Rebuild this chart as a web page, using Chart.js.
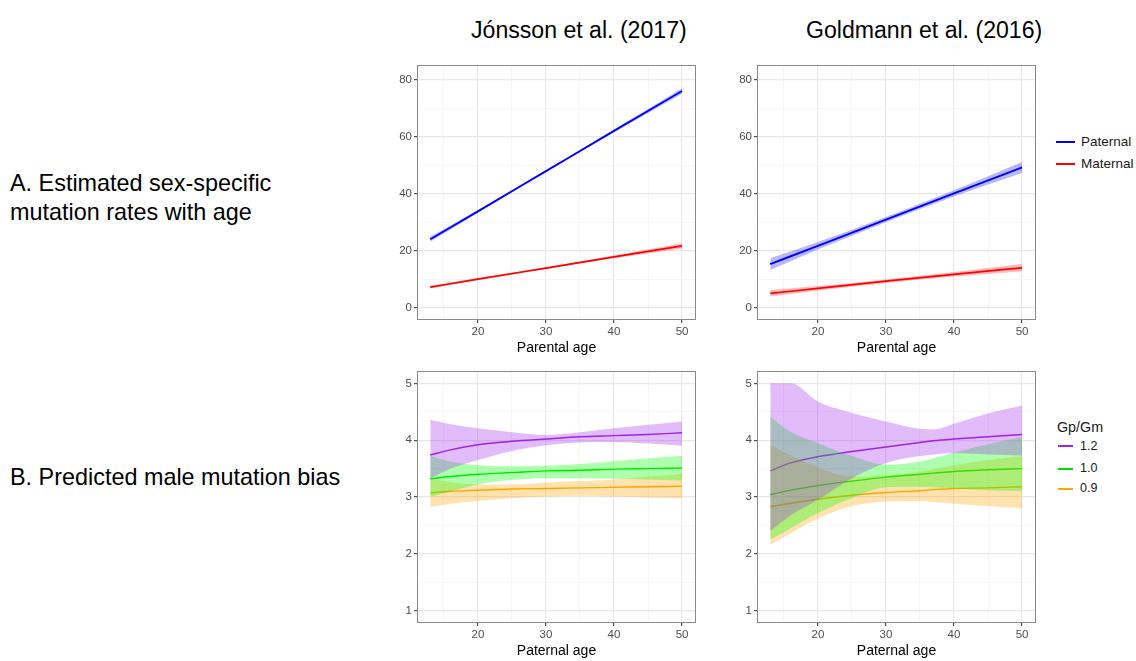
<!DOCTYPE html>
<html lang="en">
<head>
<meta charset="UTF-8">
<title>Sex-specific mutation rates and male mutation bias</title>
<script src="https://cdn.jsdelivr.net/npm/chart.js"></script>
<style>
  body { margin: 0; background: #fff; font-family: "Liberation Sans", Arial, Helvetica, sans-serif; color: #000; }
  #page { position: relative; width: 1136px; height: 661px; overflow: hidden; }
  .txt { position: absolute; white-space: nowrap; }
  .key { position: absolute; height: 2px; }
  canvas { position: absolute; }
</style>
</head>
<body>
<div id="page">
  <!-- column titles -->
  <div class="txt" style="left:471px; top:16px; font-size:23.1px; line-height:28px;">Jónsson et al. (2017)</div>
  <div class="txt" style="left:806px; top:16px; font-size:23.1px; line-height:28px;">Goldmann et al. (2016)</div>

  <!-- row labels -->
  <div class="txt" style="left:10px; top:169.4px; font-size:23.4px; line-height:28.3px;">A. Estimated sex-specific<br>mutation rates with age</div>
  <div class="txt" style="left:10px; top:462.7px; font-size:23.4px; line-height:28.3px;">B. Predicted male mutation bias</div>

  <!-- panels -->
  <canvas id="rateJon" width="334" height="303" style="left:373px; top:56px;"></canvas>
  <canvas id="rateGol" width="334" height="303" style="left:713px; top:56px;"></canvas>
  <canvas id="biasJon" width="334" height="300" style="left:373px; top:362px;"></canvas>
  <canvas id="biasGol" width="334" height="300" style="left:713px; top:362px;"></canvas>

  <!-- legend: sex -->
  <div class="key" style="left:1056px; top:141px; width:19px; background:#0000ff;"></div>
  <div class="txt" style="left:1081px; top:134.2px; font-size:13.5px; line-height:16px; color:#1a1a1a;">Paternal</div>
  <div class="key" style="left:1056px; top:163.3px; width:19px; background:#ff0000;"></div>
  <div class="txt" style="left:1081px; top:156.4px; font-size:13.5px; line-height:16px; color:#1a1a1a;">Maternal</div>

  <!-- legend: Gp/Gm -->
  <div class="txt" style="left:1057px; top:419px; font-size:14.3px; line-height:17px; color:#1a1a1a;">Gp/Gm</div>
  <div class="key" style="left:1058px; top:445px; width:15px; background:#a020f0;"></div>
  <div class="txt" style="left:1080px; top:438.6px; font-size:12.5px; line-height:15px; color:#1a1a1a;">1.2</div>
  <div class="key" style="left:1058px; top:467.7px; width:15px; background:#00dd00;"></div>
  <div class="txt" style="left:1080px; top:461.3px; font-size:12.5px; line-height:15px; color:#1a1a1a;">1.0</div>
  <div class="key" style="left:1058px; top:487.7px; width:15px; background:#ffa500;"></div>
  <div class="txt" style="left:1080px; top:481.3px; font-size:12.5px; line-height:15px; color:#1a1a1a;">0.9</div>
</div>

<script>
// ---- data ----
const rateAges = [13, 20, 30, 40, 50];

// Jónsson et al. (2017): mutations per generation
const jonPaternal   = [24.0, 33.8, 47.9, 62.0, 76.0];
const jonPaternalHi = [24.9, 34.3, 48.2, 62.5, 77.0];
const jonPaternalLo = [23.1, 33.3, 47.6, 61.5, 75.0];
const jonMaternal   = [7.2, 10.0, 13.9, 17.8, 21.7];
const jonMaternalHi = [7.7, 10.4, 14.2, 18.3, 22.6];
const jonMaternalLo = [6.7, 9.6, 13.6, 17.3, 20.8];

// Goldmann et al. (2016)
const golPaternal   = [15.3, 21.7, 30.9, 40.1, 49.2];
const golPaternalHi = [17.3, 23.0, 31.8, 41.2, 51.1];
const golPaternalLo = [13.2, 20.4, 30.0, 39.0, 47.2];
const golMaternal   = [5.0, 6.8, 9.3, 11.7, 14.0];
const golMaternalHi = [6.2, 7.6, 9.9, 12.5, 15.3];
const golMaternalLo = [3.9, 6.0, 8.7, 10.9, 12.8];

// predicted male mutation bias, Jónsson
const biasAgesJon = [13, 16, 20, 25, 30, 35, 40, 45, 50];
const jon12   = [3.74, 3.83, 3.92, 3.98, 4.02, 4.06, 4.08, 4.10, 4.13];
const jon12Hi = [4.36, 4.28, 4.21, 4.14, 4.09, 4.14, 4.21, 4.27, 4.33];
const jon12Lo = [3.33, 3.50, 3.65, 3.81, 3.91, 3.96, 3.97, 3.94, 3.90];
const jon10   = [3.32, 3.36, 3.40, 3.43, 3.46, 3.47, 3.49, 3.50, 3.51];
const jon10Hi = [3.72, 3.62, 3.56, 3.54, 3.55, 3.58, 3.63, 3.68, 3.72];
const jon10Lo = [3.00, 3.10, 3.22, 3.30, 3.33, 3.33, 3.32, 3.31, 3.29];
const jon09   = [3.07, 3.10, 3.12, 3.14, 3.15, 3.16, 3.17, 3.18, 3.19];
const jon09Hi = [3.32, 3.26, 3.22, 3.22, 3.25, 3.28, 3.31, 3.36, 3.41];
const jon09Lo = [2.82, 2.88, 2.93, 2.98, 3.01, 3.02, 3.01, 2.99, 2.98];

// predicted male mutation bias, Goldmann
const biasAgesGol = [13, 16, 20, 25, 30, 35, 37, 40, 45, 50];
const gol12   = [3.46, 3.60, 3.71, 3.80, 3.88, 3.96, 3.99, 4.02, 4.06, 4.10];
const gol12Hi = [5.00, 5.00, 4.68, 4.48, 4.33, 4.20, 4.19, 4.29, 4.47, 4.61];
const gol12Lo = [2.40, 2.68, 2.95, 3.33, 3.60, 3.72, 3.75, 3.77, 3.75, 3.73];
const gol10   = [3.04, 3.12, 3.20, 3.28, 3.35, 3.40, 3.42, 3.45, 3.48, 3.50];
const gol10Hi = [4.41, 4.15, 3.95, 3.72, 3.57, 3.62, 3.68, 3.78, 3.93, 4.05];
const gol10Lo = [2.25, 2.45, 2.72, 2.98, 3.17, 3.18, 3.17, 3.15, 3.12, 3.10];
const gol09   = [2.83, 2.89, 2.96, 3.03, 3.08, 3.11, 3.13, 3.15, 3.16, 3.18];
const gol09Hi = [3.92, 3.73, 3.52, 3.36, 3.38, 3.45, 3.49, 3.56, 3.65, 3.72];
const gol09Lo = [2.16, 2.36, 2.62, 2.84, 2.92, 2.93, 2.91, 2.88, 2.84, 2.80];

// axes
const ageTicks = [20, 30, 40, 50];
const ageMinorTicks = [15, 25, 35, 45];
const rateTicks = [0, 20, 40, 60, 80];
const rateMinorTicks = [10, 30, 50, 70];
const biasTicks = [1, 2, 3, 4, 5];
const biasMinorTicks = [1.5, 2.5, 3.5, 4.5];

const FONT = "'Liberation Sans', Arial, Helvetica, sans-serif";

function pts(xs, ys) {
    return xs.map((x, i) => ({ x: x, y: ys[i] }));
}

// upper edge fills down to the lower edge that follows it
function ribbon(xs, hi, lo, fillColor) {
    return [
        { data: pts(xs, hi), borderWidth: 0, pointRadius: 0, fill: '+1', backgroundColor: fillColor },
        { data: pts(xs, lo), borderWidth: 0, pointRadius: 0, fill: false }
    ];
}

function line(xs, ys, color, width) {
    return { data: pts(xs, ys), borderColor: color, borderWidth: width, pointRadius: 0, fill: false };
}

function scaleOpts(range, major, minor, horizontal, title) {
    const isMajor = v => major.includes(v);
    return {
        type: 'linear',
        min: range[0],
        max: range[1],
        afterBuildTicks: s => {
            s.ticks = major.concat(minor).sort((a, b) => a - b).map(v => ({ value: v }));
        },
        afterFit: s => {
            if (horizontal) s.height = 40; else s.width = 45;
        },
        border: { display: false },
        grid: {
            color: c => (c.tick && isMajor(c.tick.value)) ? '#e8e8e8' : '#f4f4f4',
            lineWidth: c => (c.tick && isMajor(c.tick.value)) ? 1.2 : 0.8,
            tickColor: c => (c.tick && isMajor(c.tick.value)) ? '#4d4d4d' : 'rgba(0,0,0,0)',
            tickLength: 4
        },
        ticks: {
            autoSkip: false,
            maxRotation: 0,
            padding: 2,
            color: '#4d4d4d',
            font: { family: FONT, size: 11.5 },
            callback: v => isMajor(v) ? String(v) : ''
        },
        title: title ? {
            display: true,
            text: title,
            color: '#000',
            font: { family: FONT, size: 14 },
            padding: { top: 0, bottom: 2.4 }
        } : { display: false }
    };
}

const panelBorder = {
    id: 'panelBorder',
    afterDraw(chart) {
        const a = chart.chartArea;
        const ctx = chart.ctx;
        ctx.save();
        ctx.strokeStyle = '#8a8a8a';
        ctx.lineWidth = 1;
        ctx.strokeRect(Math.round(a.left) - 0.5, Math.round(a.top) - 0.5,
            Math.round(a.right - a.left) + 1, Math.round(a.bottom - a.top) + 1);
        ctx.restore();
    }
};

function makePanel(id, datasets, yRange, yMajor, yMinor, xTitle) {
    new Chart(document.getElementById(id), {
        type: 'line',
        data: { datasets: datasets },
        options: {
            responsive: false,
            animation: false,
            layout: { padding: { left: 0, top: 10, right: 12, bottom: 0 } },
            elements: { line: { cubicInterpolationMode: 'monotone' } },
            plugins: { legend: { display: false }, tooltip: { enabled: false } },
            scales: {
                x: scaleOpts([11.2, 51.9], ageTicks, ageMinorTicks, true, xTitle),
                y: scaleOpts(yRange, yMajor, yMinor, false, null)
            }
        },
        plugins: [panelBorder]
    });
}

const BLUE = '#0000ff', RED = '#ff0000';
const PURPLE = '#a020f0', GREEN = '#00dd00', ORANGE = '#ffa500';
const blueFill = 'rgba(0,0,255,0.28)', redFill = 'rgba(255,0,0,0.28)';
const purpleFill = 'rgba(160,32,240,0.3)', greenFill = 'rgba(0,255,0,0.32)', orangeFill = 'rgba(255,165,0,0.32)';

makePanel('rateJon', [
    ...ribbon(rateAges, jonPaternalHi, jonPaternalLo, blueFill),
    ...ribbon(rateAges, jonMaternalHi, jonMaternalLo, redFill),
    line(rateAges, jonPaternal, BLUE, 1.9),
    line(rateAges, jonMaternal, RED, 1.7)
], [-3.96, 84.76], rateTicks, rateMinorTicks, 'Parental age');

makePanel('rateGol', [
    ...ribbon(rateAges, golPaternalHi, golPaternalLo, blueFill),
    ...ribbon(rateAges, golMaternalHi, golMaternalLo, redFill),
    line(rateAges, golPaternal, BLUE, 1.9),
    line(rateAges, golMaternal, RED, 1.7)
], [-3.96, 84.76], rateTicks, rateMinorTicks, 'Parental age');

makePanel('biasJon', [
    ...ribbon(biasAgesJon, jon12Hi, jon12Lo, purpleFill),
    ...ribbon(biasAgesJon, jon10Hi, jon10Lo, greenFill),
    ...ribbon(biasAgesJon, jon09Hi, jon09Lo, orangeFill),
    line(biasAgesJon, jon12, PURPLE, 1.4),
    line(biasAgesJon, jon10, GREEN, 1.4),
    line(biasAgesJon, jon09, ORANGE, 1.4)
], [0.8, 5.2], biasTicks, biasMinorTicks, 'Paternal age');

makePanel('biasGol', [
    ...ribbon(biasAgesGol, gol12Hi, gol12Lo, purpleFill),
    ...ribbon(biasAgesGol, gol10Hi, gol10Lo, greenFill),
    ...ribbon(biasAgesGol, gol09Hi, gol09Lo, orangeFill),
    line(biasAgesGol, gol12, PURPLE, 1.4),
    line(biasAgesGol, gol10, GREEN, 1.4),
    line(biasAgesGol, gol09, ORANGE, 1.4)
], [0.8, 5.2], biasTicks, biasMinorTicks, 'Paternal age');
</script>
</body>
</html>
